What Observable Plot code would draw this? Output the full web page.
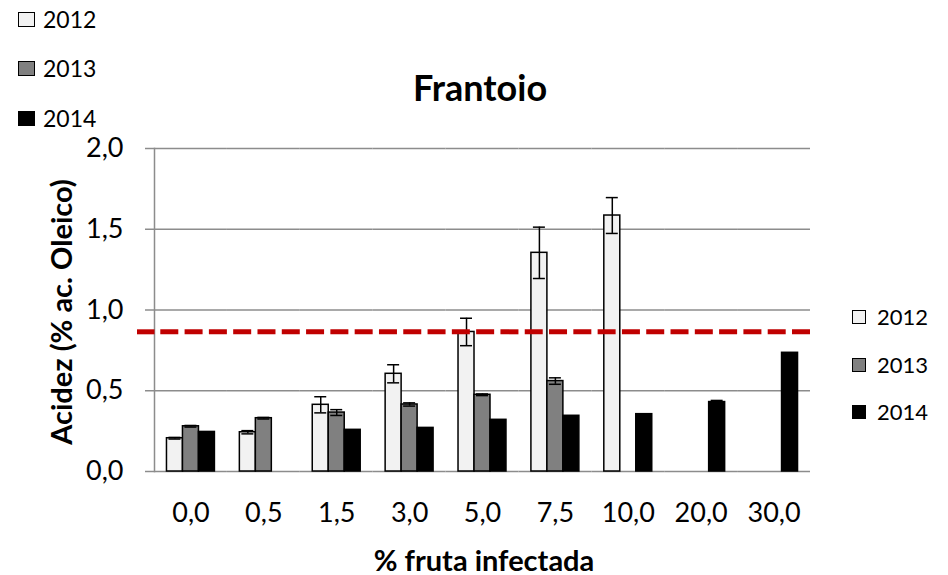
<!DOCTYPE html>
<html><head><meta charset="utf-8">
<script src="https://cdn.jsdelivr.net/npm/d3@7"></script>
<script src="https://cdn.jsdelivr.net/npm/@observablehq/plot@0.6"></script>
<style>
body{margin:0;background:#fff;font-family:Lato,"Open Sans",sans-serif;}
#wrap{position:relative;width:948px;height:575px;overflow:hidden;background:#fff;}
#chart{position:absolute;left:0;top:0;}
.abs{position:absolute;white-space:nowrap;line-height:1;color:#000;}
.sw{position:absolute;box-sizing:border-box;border:1.5px solid #000;}
</style></head><body>
<div id="wrap"><div id="chart"></div></div>
<script>
// ---- data ----
const categories = ["0,0","0,5","1,5","3,0","5,0","7,5","10,0","20,0","30,0"];
const years = ["2012","2013","2014"];
const v2012 = [0.206, 0.243, 0.413, 0.605, 0.864, 1.354, 1.585, null, null];
const v2013 = [0.280, 0.330, 0.365, 0.415, 0.475, 0.560, null, null, null];
const v2014 = [0.245, null, 0.258, 0.270, 0.320, 0.345, 0.355, 0.430, 0.735];
const e2012 = [0.005, 0.010, 0.050, 0.056, 0.085, 0.159, 0.111, null, null];
const e2013 = [0.005, 0.005, 0.018, 0.010, 0.005, 0.020, null, null, null];
const e2014 = [0.000, null, 0.000, 0.000, 0.000, 0.000, 0.000, 0.010, 0.000];
const yTicks = [0, 0.5, 1, 1.5, 2];
const limitValue = 0.865;
const yearColors = ["#f2f2f2", "#808080", "#000000"];
const titleText = "Frantoio";
const yLabel = "Acidez (% ac. Oleico)";
const xLabel = "% fruta infectada";

// ---- build rows ----
const vals = [v2012, v2013, v2014];
const errs = [e2012, e2013, e2014];
const rows = [];
years.forEach((yr, j) => {
  categories.forEach((c, i) => {
    if (vals[j][i] != null) rows.push({cat: c, year: yr, value: vals[j][i], err: errs[j][i] || 0});
  });
});
const errRows = rows.filter(d => d.err > 0);
const limitRows = categories.map(c => ({cat: c, value: limitValue}));
const comma = d => d.toFixed(1).replace(".", ",");

const W = 948, H = 575, mL = 154, mR = 138;
const facetW = (W - mL - mR) / categories.length;
const gap = facetW / 3 - 18;

const chart = Plot.plot({
  width: W, height: H,
  marginLeft: mL, marginRight: mR, marginTop: 148, marginBottom: 104,
  style: {fontFamily: "Lato, 'Open Sans', sans-serif", fontSize: "27px", background: "transparent", color: "#000"},
  fx: {domain: categories, padding: 0, round: false, label: null},
  x: {domain: years, paddingInner: 0, paddingOuter: 0.78, round: false, axis: null},
  y: {domain: [0, 2], label: null},
  color: {domain: years, range: yearColors},
  marks: [
    Plot.gridY(yTicks, {stroke: "#8c8c8c", strokeOpacity: 1, strokeWidth: 1.5}),
    Plot.frame({anchor: "left", facetAnchor: "left", stroke: "#8c8c8c", strokeWidth: 1.5}),
    Plot.axisY({ticks: yTicks, tickFormat: comma, tickSize: 9, tickPadding: 22, stroke: "#8c8c8c", strokeWidth: 1.5, fill: "#000", fontSize: 27, label: null}),
    Plot.axisFx({anchor: "bottom", tickSize: 0, tickPadding: 31, fontSize: 27, label: null}),
    Plot.barY(rows, {fx: "cat", x: "year", y: "value", fill: "year", stroke: "#000", strokeWidth: 1.5}),
    Plot.ruleX(errRows, {fx: "cat", x: "year", y1: d => d.value - d.err, y2: d => d.value + d.err, stroke: "#000", strokeWidth: 1.5}),
    Plot.tickY(errRows, {fx: "cat", x: "year", y: d => d.value - d.err, stroke: "#000", strokeWidth: 1.5, insetLeft: 2, insetRight: 2}),
    Plot.tickY(errRows, {fx: "cat", x: "year", y: d => d.value + d.err, stroke: "#000", strokeWidth: 1.5, insetLeft: 2, insetRight: 2}),
    Plot.ruleY(limitRows, {fx: "cat", y: "value", stroke: "#c00000", strokeWidth: 5, strokeDasharray: `18 ${gap}`, strokeDashoffset: 18}),
    Plot.ruleY(limitRows.slice(0, 1), {fx: "cat", y: "value", stroke: "#c00000", strokeWidth: 5, strokeDasharray: "17.5 9999", insetLeft: -17})
  ]
});
document.getElementById("chart").appendChild(chart);

// ---- HTML text & legends ----
const wrap = document.getElementById("wrap");
function addText(txt, x, y, fs, weight, rot) {
  const d = document.createElement("div");
  d.className = "abs";
  d.textContent = txt;
  d.style.left = x + "px"; d.style.top = y + "px";
  d.style.fontSize = fs + "px"; d.style.fontWeight = weight;
  d.style.transform = "translate(-50%,-50%)" + (rot ? " rotate(-90deg)" : "");
  wrap.appendChild(d);
}
addText(titleText, 480, 87, 36, 700, false);
addText(yLabel, 60, 312, 29, 700, true);
addText(xLabel, 484, 559, 29, 700, false);

function addLegend(x0, ys, sw, sh, textX, fs) {
  years.forEach((yr, j) => {
    const s = document.createElement("div");
    s.className = "sw";
    s.style.left = x0 + "px"; s.style.top = (ys[j] - sh / 2) + "px";
    s.style.width = sw + "px"; s.style.height = sh + "px";
    s.style.background = yearColors[j];
    wrap.appendChild(s);
    const t = document.createElement("div");
    t.className = "abs";
    t.textContent = yr;
    t.style.left = textX + "px"; t.style.top = ys[j] + "px";
    t.style.fontSize = fs + "px";
    t.style.transform = "translateY(-50%)";
    wrap.appendChild(t);
  });
}
addLegend(18, [19, 68, 118], 17, 15, 43, 23);
addLegend(852, [317, 365, 412], 14, 14, 877, 22);
</script></body></html>
